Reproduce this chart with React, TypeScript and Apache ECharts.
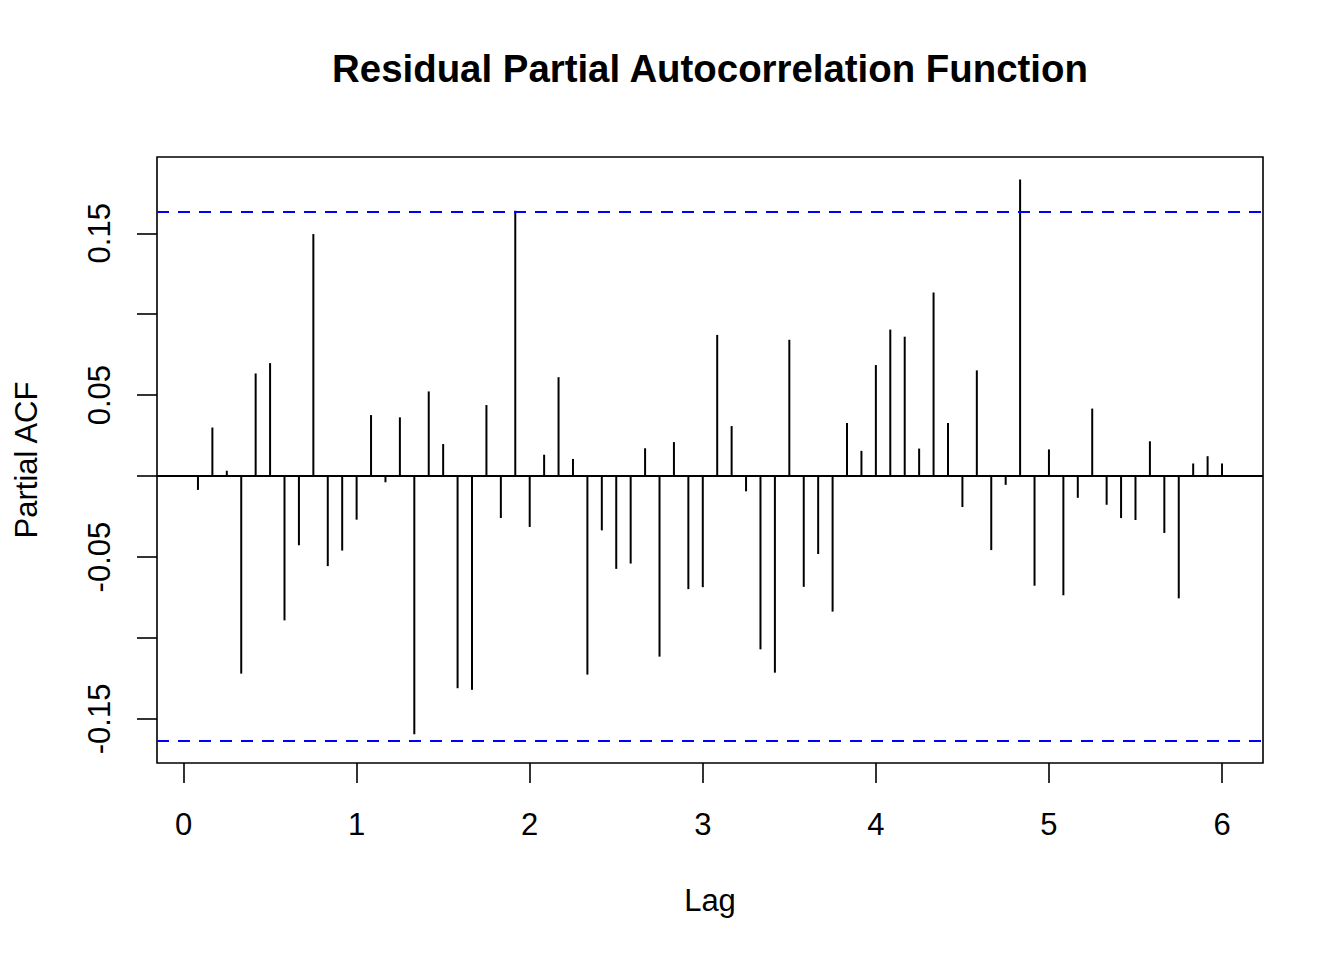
import React, { useEffect, useRef } from "react";
import * as echarts from "echarts";

const titleText = "Residual Partial Autocorrelation Function";
const xName = "Lag";
const yName = "Partial ACF";

const frequency = 12;
const lagMonths = [
  1, 2, 3, 4, 5, 6, 7, 8, 9, 10, 11, 12,
  13, 14, 15, 16, 17, 18, 19, 20, 21, 22, 23, 24,
  25, 26, 27, 28, 29, 30, 31, 32, 33, 34, 35, 36,
  37, 38, 39, 40, 41, 42, 43, 44, 45, 46, 47, 48,
  49, 50, 51, 52, 53, 54, 55, 56, 57, 58, 59, 60,
  61, 62, 63, 64, 65, 66, 67, 68, 69, 70, 71, 72,
];
const pacfValues = [
  -0.0085, 0.030, 0.0033, -0.122, 0.0634, 0.0698, -0.0891, -0.0427, 0.1495, -0.0556, -0.046, -0.0269,
  0.0377, -0.0038, 0.0363, -0.1594, 0.0523, 0.0198, -0.131, -0.132, 0.0439, -0.0259, 0.1639, -0.0314,
  0.0132, 0.0611, 0.0106, -0.1226, -0.0335, -0.0573, -0.054, 0.0172, -0.1115, 0.021, -0.0698, -0.0686,
  0.0872, 0.0309, -0.0094, -0.107, -0.1214, 0.0842, -0.0684, -0.0481, -0.0837, 0.0328, 0.0156, 0.0686,
  0.0905, 0.0861, 0.017, 0.1134, 0.0328, -0.0191, 0.0653, -0.0457, -0.0054, 0.1832, -0.0677, 0.0165,
  -0.0736, -0.0134, 0.0417, -0.0177, -0.0259, -0.0271, 0.0215, -0.0351, -0.0755, 0.0078, 0.0123, 0.0078,
];
const confLimit = 0.1633;

const xTicks = [0, 1, 2, 3, 4, 5, 6];
const yTicks = [-0.15, -0.1, -0.05, 0, 0.05, 0.1, 0.15];
const yLabels = [-0.15, -0.05, 0.05, 0.15];

const FONT = "'Liberation Sans', Arial, Helvetica, sans-serif";

export default function App() {
  const ref = useRef<HTMLDivElement>(null);
  useEffect(() => {
    if (!ref.current) return;
    const chart = echarts.init(ref.current, null, { renderer: "svg", width: 1344, height: 960 });
    const data = lagMonths.map((m, i) => [m / frequency, pacfValues[i]]);
    chart.setOption({
      animation: false,
      backgroundColor: "#ffffff",
      grid: {
        left: 157,
        top: 157,
        width: 1106,
        height: 606,
        show: true,
        borderColor: "#000000",
        borderWidth: 1.6,
        backgroundColor: "transparent",
      },
      xAxis: {
        type: "value",
        min: -0.1533,
        max: 6.2367,
        axisLine: { show: false, onZero: false },
        splitLine: { show: false },
        axisTick: {
          show: true,
          customValues: xTicks,
          length: 20,
          inside: false,
          lineStyle: { color: "#000", width: 1.6 },
        },
        axisLabel: {
          show: true,
          customValues: xTicks,
          margin: 46,
          fontSize: 31,
          color: "#000",
          fontFamily: FONT,
          formatter: (v: number) => String(v),
        },
      },
      yAxis: {
        type: "value",
        min: -0.1772,
        max: 0.1971,
        axisLine: { show: false, onZero: false },
        splitLine: { show: false },
        axisTick: {
          show: true,
          customValues: yTicks,
          length: 20,
          inside: false,
          lineStyle: { color: "#000", width: 1.6 },
        },
        axisLabel: {
          show: true,
          customValues: yLabels,
          rotate: 90,
          margin: 42,
          fontSize: 31,
          color: "#000",
          fontFamily: FONT,
          formatter: (v: number) => v.toFixed(2),
        },
      },
      graphic: [
        {
          type: "text",
          x: 710,
          y: 68,
          style: {
            text: titleText,
            fontSize: 38.4,
            fontWeight: "bold",
            fontFamily: FONT,
            fill: "#000",
            textAlign: "center",
            textVerticalAlign: "middle",
          },
        },
        {
          type: "text",
          x: 710,
          y: 900,
          style: {
            text: xName,
            fontSize: 31,
            fontFamily: FONT,
            fill: "#000",
            textAlign: "center",
            textVerticalAlign: "middle",
          },
        },
        {
          type: "text",
          x: 26,
          y: 460,
          rotation: Math.PI / 2,
          style: {
            text: yName,
            fontSize: 31,
            fontFamily: FONT,
            fill: "#000",
            textAlign: "center",
            textVerticalAlign: "middle",
          },
        },
      ],
      series: [
        {
          type: "custom",
          data,
          silent: true,
          renderItem: (params: any, api: any) => {
            const x = api.value(0);
            const y = api.value(1);
            const p0 = api.coord([x, 0]);
            const p1 = api.coord([x, y]);
            return {
              type: "line",
              shape: { x1: p0[0], y1: p0[1], x2: p1[0], y2: p1[1] },
              style: { stroke: "#000", lineWidth: 2 },
            };
          },
        },
        {
          type: "line",
          data: [],
          silent: true,
          markLine: {
            silent: true,
            symbol: "none",
            precision: 4,
            label: { show: false },
            data: [
              { yAxis: 0, lineStyle: { color: "#000", width: 2, type: "solid" } },
              { yAxis: confLimit, lineStyle: { color: "#0000ff", width: 2, type: [12, 9] } },
              { yAxis: -confLimit, lineStyle: { color: "#0000ff", width: 2, type: [12, 9] } },
            ],
          },
        },
      ],
    });
    return () => chart.dispose();
  }, []);
  return <div ref={ref} style={{ position: "absolute", left: 0, top: 0, width: 1344, height: 960 }} />;
}
